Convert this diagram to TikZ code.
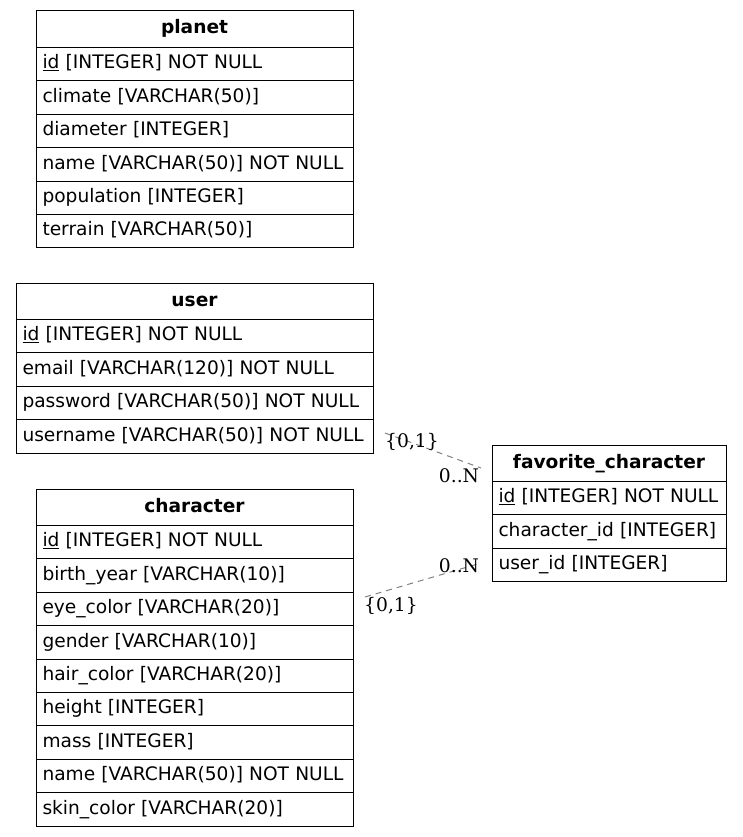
\documentclass[tikz,border=0pt]{standalone}
\usepackage{fontspec}
\setmainfont{DejaVu Sans}
\newfontfamily\cardfont{DejaVu Serif}
\usetikzlibrary{positioning}

\begin{document}
\begin{tikzpicture}[
  x = 1pt,
  y = -1pt,
  head/.style = {
    draw,
    anchor = north west,
    text width = #1,
    align = center,
    minimum height = 36.5pt,
    inner xsep = 6.5pt,
    inner ysep = 0pt,
    outer sep = 0pt,
    text height = 13.5pt,
    text depth = 4pt,
    font = \fontsize{18.6}{22}\selectfont\bfseries
  },
  field/.style = {
    draw,
    text width = #1,
    align = left,
    minimum height = 33.4pt,
    inner xsep = 6.5pt,
    inner ysep = 0pt,
    outer sep = 0pt,
    text height = 13.5pt,
    text depth = 4pt,
    font = \fontsize{18.6}{22}\selectfont
  },
  card/.style = {
    inner sep = 0pt,
    font = \cardfont\fontsize{18.7}{22}\selectfont
  },
  link/.style = {
    draw = gray,
    dash pattern = on 6pt off 5pt
  },
  every path/.style = {
    line width = 1pt
  }
]
  \useasboundingbox (0,0) rectangle (743,837);

  % planet
  \node[head=304pt] (pl0) at (36,11) {planet};
  \node[field=304pt, below=0pt of pl0] (pl1) {\underline{id} [INTEGER] NOT NULL};
  \node[field=304pt, below=0pt of pl1] (pl2) {climate [VARCHAR(50)]};
  \node[field=304pt, below=0pt of pl2] (pl3) {diameter [INTEGER]};
  \node[field=304pt, below=0pt of pl3] (pl4) {name [VARCHAR(50)] NOT NULL};
  \node[field=304pt, below=0pt of pl4] (pl5) {population [INTEGER]};
  \node[field=304pt, below=0pt of pl5] (pl6) {terrain [VARCHAR(50)]};

  % user
  \node[head=344pt] (us0) at (16,283) {user};
  \node[field=344pt, below=0pt of us0] (us1) {\underline{id} [INTEGER] NOT NULL};
  \node[field=344pt, below=0pt of us1] (us2) {email [VARCHAR(120)] NOT NULL};
  \node[field=344pt, below=0pt of us2] (us3) {password [VARCHAR(50)] NOT NULL};
  \node[field=344pt, below=0pt of us3] (us4) {username [VARCHAR(50)] NOT NULL};

  % character
  \node[head=304pt] (ch0) at (36,489) {character};
  \node[field=304pt, below=0pt of ch0] (ch1) {\underline{id} [INTEGER] NOT NULL};
  \node[field=304pt, below=0pt of ch1] (ch2) {birth\_year [VARCHAR(10)]};
  \node[field=304pt, below=0pt of ch2] (ch3) {eye\_color [VARCHAR(20)]};
  \node[field=304pt, below=0pt of ch3] (ch4) {gender [VARCHAR(10)]};
  \node[field=304pt, below=0pt of ch4] (ch5) {hair\_color [VARCHAR(20)]};
  \node[field=304pt, below=0pt of ch5] (ch6) {height [INTEGER]};
  \node[field=304pt, below=0pt of ch6] (ch7) {mass [INTEGER]};
  \node[field=304pt, below=0pt of ch7] (ch8) {name [VARCHAR(50)] NOT NULL};
  \node[field=304pt, below=0pt of ch8] (ch9) {skin\_color [VARCHAR(20)]};

  % favorite_character
  \node[head=221pt] (fc0) at (492,445) {favorite\_character};
  \node[field=221pt, below=0pt of fc0] (fc1) {\underline{id} [INTEGER] NOT NULL};
  \node[field=221pt, below=0pt of fc1] (fc2) {character\_id [INTEGER]};
  \node[field=221pt, below=0pt of fc2] (fc3) {user\_id [INTEGER]};

  % relations
  \coordinate (us-out) at (385,433);
  \coordinate (fc-in1) at (481,468);
  \coordinate (ch-out) at (365,597);
  \coordinate (fc-in2) at (481,563);

  \draw[link] (us-out) -- (fc-in1);
  \draw[link] (ch-out) -- (fc-in2);

  \node[card] (us-card) at (412,442) {\{0,1\}};
  \node[card] (fc-card1) at (459,476) {0..N};
  \node[card] (fc-card2) at (459,566) {0..N};
  \node[card] (ch-card) at (391,606) {\{0,1\}};
\end{tikzpicture}
\end{document}
